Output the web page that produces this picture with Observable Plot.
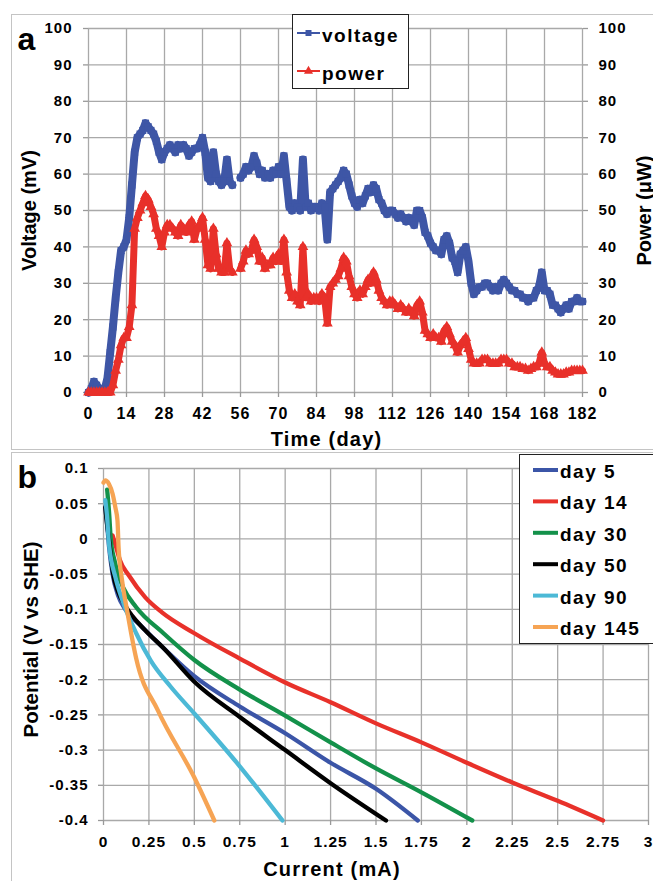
<!DOCTYPE html>
<html><head><meta charset="utf-8">
<script src="https://cdn.jsdelivr.net/npm/d3@7"></script>
<script src="https://cdn.jsdelivr.net/npm/@observablehq/plot@0.6"></script>
<style>
body{margin:0;background:#fff;}
#wrap{position:relative;width:653px;height:881px;overflow:hidden;font-family:"Liberation Sans",Arial,sans-serif;font-weight:bold;}
.panel{position:absolute;left:11px;width:700px;border:1.5px solid #c4c4c4;box-sizing:border-box;}
#pa{top:14px;height:436px;}
#pb{top:452px;height:500px;}
.chart{position:absolute;left:0;}
#ca{top:0;} #cb{top:450px;}
.leg{position:absolute;background:#fff;border:1.3px solid #222;box-sizing:border-box;}
svg [aria-label$="tick label"] text{letter-spacing:1px;}
.htext{letter-spacing:1.2px;}
</style></head>
<body>
<div id="wrap">
  <div class="panel" id="pa"></div>
  <div class="panel" id="pb"></div>
  <div class="chart" id="ca"></div>
  <div class="chart" id="cb"></div>
  <div class="leg" id="lega" style="left:292px;top:14px;width:117px;height:75px;"></div>
  <div class="leg" id="legb" style="left:519px;top:454px;width:150px;height:190px;"></div>
</div>
<script>
// ---------- Panel a data (one value per day, 0..182) ----------
const voltage = [
0,1,3,2,1,1,1,4,11,18,
26,33,39,40,42,48,57,66,70,71,
72,74,73,72,71,69,66,64,66,67,
68,67,66,68,67,68,67,65,66,67,
67,68,70,66,59,58,66,60,58,57,
58,64,58,57,null,null,59,60,62,61,
62,65,63,60,61,59,60,59,61,60,
62,60,65,58,51,50,52,51,50,64,
51,52,50,51,51,50,52,51,42,55,
56,57,58,59,61,60,57,54,52,51,
53,52,54,56,55,57,56,53,52,50,
49,50,50,49,48,49,48,47,48,47,
46,50,50,48,44,43,41,40,39,39,
38,42,43,41,37,36,33,38,39,40,
36,30,27,28,29,29,30,30,29,28,
29,28,30,31,30,29,28,28,27,27,
26,26,25,26,26,28,29,33,28,28,
27,24,24,23,22,23,24,23,25,25,
26,25,25];
const power = [
0,0,0,0,0,0,0,0,0,2,
6,9,13,15,15,18,24,45,48,50,
52,54,53,51,49,45,43,40,44,46,
46,45,44,43,46,45,44,46,47,42,
45,46,48,42,35,34,45,38,34,33,
33,41,34,33,null,null,34,36,39,38,
39,42,40,36,37,34,35,35,37,36,
38,36,42,33,28,26,27,25,24,40,
26,27,25,26,26,25,27,26,19,29,
30,31,32,34,37,36,32,29,27,26,
28,27,29,31,30,33,31,28,26,25,
24,25,25,24,23,24,23,22,23,22,
21,24,25,22,17,16,15,16,15,15,
14,17,18,16,14,13,11,13,14,15,
12,9,8,8,8,9,9,9,8,8,
8,8,9,9,9,8,8,7,7,7,
6.5,6.5,6,6.5,7,7,8,11,8,7,
7,6,5.5,5,5,5,5.5,5.5,6,6,
6,6,6];
const seriesA = ["voltage", "power"];
const colorsA = ["#3e56a6", "#e8302a"];
const xTicksA = [0,14,28,42,56,70,84,98,112,126,140,154,168,182];
const yTicksA = [0,10,20,30,40,50,60,70,80,90,100];

// ---------- Panel b data: [current mA, potential V] ----------
const day5 = [[0.01,0.045],[0.02,0.02],[0.03,-0.01],[0.05,-0.05],[0.08,-0.08],[0.12,-0.1],[0.2,-0.122],[0.33,-0.155],[0.5,-0.195],[0.75,-0.238],[1.0,-0.276],[1.25,-0.318],[1.5,-0.355],[1.73,-0.4]];
const day14 = [[0.05,0.005],[0.07,-0.012],[0.09,-0.03],[0.14,-0.052],[0.23,-0.083],[0.32,-0.104],[0.5,-0.134],[0.75,-0.17],[1.0,-0.204],[1.25,-0.232],[1.5,-0.262],[1.75,-0.289],[2.0,-0.318],[2.25,-0.346],[2.5,-0.372],[2.75,-0.4]];
const day30 = [[0.02,0.07],[0.03,0.04],[0.04,0.0],[0.06,-0.03],[0.08,-0.05],[0.11,-0.07],[0.18,-0.097],[0.33,-0.134],[0.5,-0.172],[0.75,-0.214],[1.0,-0.251],[1.25,-0.289],[1.5,-0.326],[1.75,-0.36],[2.03,-0.4]];
const day50 = [[0.01,0.045],[0.02,0.02],[0.03,0.0],[0.05,-0.045],[0.08,-0.075],[0.12,-0.095],[0.23,-0.13],[0.33,-0.155],[0.5,-0.203],[0.75,-0.253],[1.0,-0.3],[1.25,-0.347],[1.555,-0.4]];
const day90 = [[0.01,0.055],[0.02,0.03],[0.03,-0.007],[0.066,-0.055],[0.105,-0.088],[0.18,-0.134],[0.26,-0.173],[0.37,-0.21],[0.5,-0.248],[0.75,-0.323],[0.985,-0.4]];
const day145 = [[0.0,0.08],[0.01,0.083],[0.03,0.078],[0.05,0.064],[0.065,0.045],[0.077,0.026],[0.083,-0.012],[0.1,-0.055],[0.13,-0.102],[0.18,-0.17],[0.3,-0.244],[0.5,-0.339],[0.61,-0.4]];
const seriesB = ["day 5","day 14","day 30","day 50","day 90","day 145"];
const curvesB = [day5, day14, day30, day50, day90, day145];
const colorsB = ["#3b55a7","#e8312a","#13914a","#000000","#4cb9d6","#f6a454"];
const xTicksB = [0,0.25,0.5,0.75,1,1.25,1.5,1.75,2,2.25,2.5,2.75,3];
const yTicksB = [0.1,0.05,0,-0.05,-0.1,-0.15,-0.2,-0.25,-0.3,-0.35,-0.4];

const FONT = '"Liberation Sans", Arial, sans-serif';
const GRID = {stroke:"#a9a9a9", strokeOpacity:1, strokeWidth:1.3};

// ---------- Panel a ----------
const voltRows = voltage.map((v,i)=>({day:i, v}));
const powRows = power.map((v,i)=>({day:i, v}));
const chartA = Plot.plot({
  width:653, height:450,
  marginLeft:88, marginRight:71, marginTop:28, marginBottom:58,
  style:{fontFamily:FONT, fontWeight:"bold", fontSize:"15px", color:"#000", background:"transparent", overflow:"visible"},
  x:{domain:[0,182]}, y:{domain:[0,100]},
  marks:[
    Plot.gridX(xTicksA, GRID),
    Plot.gridY(yTicksA, GRID),
    Plot.axisX(xTicksA, {tickSize:5, tickPadding:10, stroke:"#999", strokeWidth:1.3, fill:"#000", fontSize:16, label:null}),
    Plot.axisY(yTicksA, {anchor:"left", tickSize:5, tickPadding:11, stroke:"#999", strokeWidth:1.3, fill:"#000", fontSize:15, label:null}),
    Plot.axisY(yTicksA, {anchor:"right", tickSize:5, tickPadding:11, stroke:"#999", strokeWidth:1.3, fill:"#000", fontSize:15, label:null}),
    Plot.line(voltRows, {x:"day", y:"v", stroke:colorsA[0], strokeWidth:8, strokeLinejoin:"round", strokeLinecap:"round"}),
    Plot.dot(voltRows, {x:"day", y:"v", symbol:"square", r:4, fill:colorsA[0]}),
    Plot.line(powRows, {x:"day", y:"v", stroke:colorsA[1], strokeWidth:7, strokeLinejoin:"round", strokeLinecap:"round"}),
    Plot.dot(powRows, {x:"day", y:"v", symbol:"triangle", r:4, fill:colorsA[1]}),
    Plot.text(["Time (day)"], {frameAnchor:"bottom", textAnchor:"middle", lineAnchor:"bottom", dx:-9, dy:53, fontSize:20, className:"htext"}),
    Plot.text(["Voltage (mV)"], {frameAnchor:"left", textAnchor:"middle", lineAnchor:"bottom", rotate:-90, dx:-53, fontSize:20}),
    Plot.text(["Power (μW)"], {frameAnchor:"right", textAnchor:"middle", lineAnchor:"bottom", rotate:-90, dx:68, fontSize:20}),
    Plot.text(["a"], {frameAnchor:"top-left", textAnchor:"start", lineAnchor:"bottom", dx:-71, dy:21, fontSize:32})
  ]
});
document.getElementById("ca").appendChild(chartA);

// ---------- Panel b ----------
const rowsB = curvesB.flatMap((c,k)=>c.map(([i,v])=>({series:seriesB[k], i, v})));
const chartB = Plot.plot({
  width:653, height:431,
  marginLeft:103, marginRight:5, marginTop:18, marginBottom:61,
  style:{fontFamily:FONT, fontWeight:"bold", fontSize:"15px", color:"#000", background:"transparent", overflow:"visible"},
  x:{domain:[0,3]}, y:{domain:[-0.4,0.1]},
  color:{domain:seriesB, range:colorsB},
  marks:[
    Plot.gridX(xTicksB, GRID),
    Plot.gridY(yTicksB, GRID),
    Plot.axisX(xTicksB, {tickSize:5, tickPadding:10, stroke:"#999", strokeWidth:1.3, fill:"#000", fontSize:15.5, label:null, tickFormat:d=>String(d)}),
    Plot.axisY(yTicksB, {anchor:"left", tickSize:5, tickPadding:10, stroke:"#999", strokeWidth:1.3, fill:"#000", fontSize:15, label:null, tickFormat:d=>String(d)}),
    ...seriesB.map(s => Plot.line(rowsB.filter(r=>r.series===s), {x:"i", y:"v", stroke:"series", strokeWidth:4.3, curve:"monotone-x"})),
    Plot.text(["Current (mA)"], {frameAnchor:"bottom", textAnchor:"middle", lineAnchor:"bottom", dx:-44, dy:55, fontSize:20, className:"htext"}),
    Plot.text(["Potential (V vs SHE)"], {frameAnchor:"left", textAnchor:"middle", lineAnchor:"bottom", rotate:-90, dx:-66, dy:-5, fontSize:20.5}),
    Plot.text(["b"], {frameAnchor:"top-left", textAnchor:"start", lineAnchor:"bottom", dx:-86, dy:19, fontSize:32})
  ]
});
document.getElementById("cb").appendChild(chartB);

// ---------- Legends ----------
function legendA(){
  const el = document.getElementById("lega");
  const svg = d3.select(el).append("svg").attr("width",117).attr("height",75).style("position","absolute").style("left","-1px").style("top","-1px");
  const ys = [19, 57];
  seriesA.forEach((s,k)=>{
    svg.append("line").attr("x1",5).attr("x2",28).attr("y1",ys[k]).attr("y2",ys[k]).attr("stroke",colorsA[k]).attr("stroke-width",2);
    const sym = k===0 ? d3.symbolSquare : d3.symbolTriangle;
    svg.append("path").attr("d", d3.symbol(sym, 36)).attr("transform",`translate(16.5,${ys[k]})`).attr("fill",colorsA[k]);
    svg.append("text").attr("x",30).attr("y",ys[k]+9).attr("font-size",19).attr("font-weight","bold").attr("font-family",FONT).attr("letter-spacing","1.5px").text(s);
  });
}
function legendB(){
  const el = document.getElementById("legb");
  const svg = d3.select(el).append("svg").attr("width",150).attr("height",190).style("position","absolute").style("left","-1px").style("top","-1px");
  seriesB.forEach((s,k)=>{
    const b = 24 + 31.4*k;
    svg.append("line").attr("x1",14).attr("x2",39).attr("y1",b-8).attr("y2",b-8).attr("stroke",colorsB[k]).attr("stroke-width",4);
    svg.append("text").attr("x",41).attr("y",b).attr("font-size",19).attr("font-weight","bold").attr("font-family",FONT).attr("letter-spacing","1.5px").text(s);
  });
}
legendA(); legendB();
</script>
</body></html>
